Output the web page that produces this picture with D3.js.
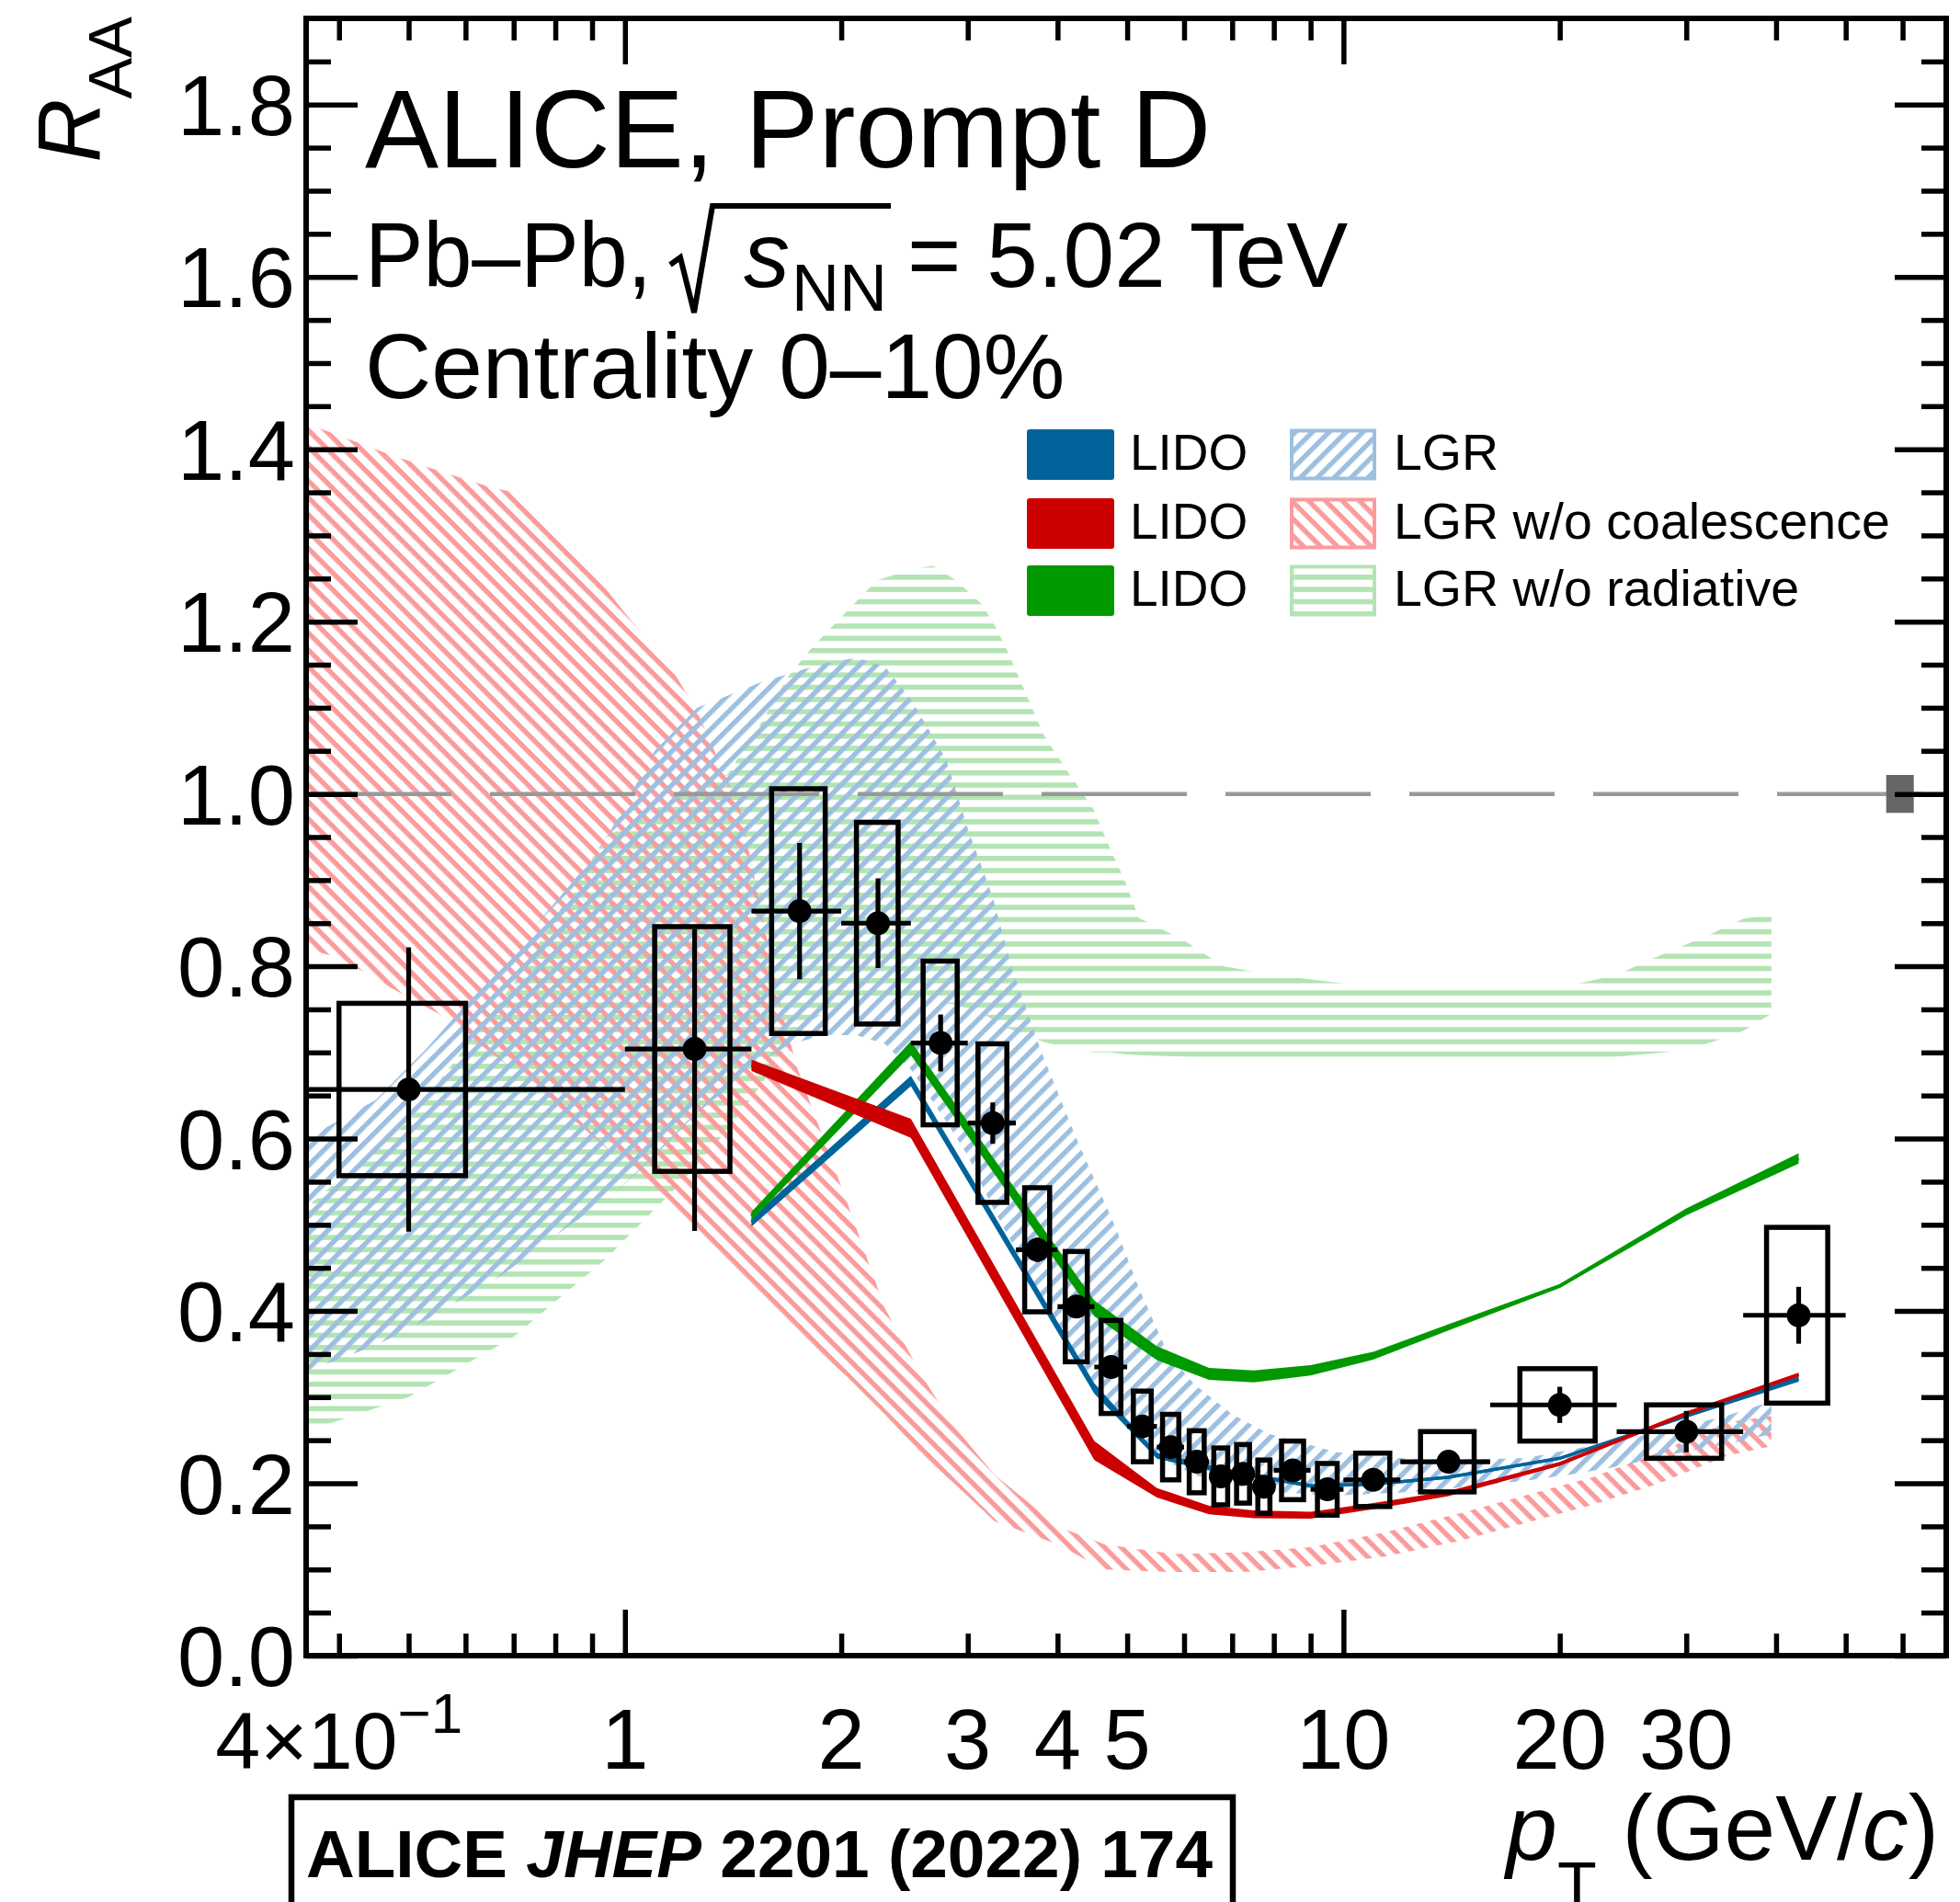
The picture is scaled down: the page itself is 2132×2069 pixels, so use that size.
<!DOCTYPE html>
<html>
<head>
<meta charset="utf-8">
<script src="https://cdn.jsdelivr.net/npm/d3@7"></script>
<style>
  html, body { margin: 0; padding: 0; background: #fff; }
  svg { display: block; }
  text { font-family: "Liberation Sans", Arial, Helvetica, sans-serif; fill: #000; }
</style>
</head>
<body>
<svg id="chart" width="2132" height="2069"></svg>
<script>
// ---------------- measured prompt-D R_AA, Pb-Pb 0-10% ----------------
const ptLow    = [0, 1, 1.5, 2, 2.5, 3, 3.5, 4, 4.5, 5, 5.5, 6, 6.5, 7, 7.5, 8, 9, 10, 12, 16, 24, 36];
const ptHigh   = [1, 1.5, 2, 2.5, 3, 3.5, 4, 4.5, 5, 5.5, 6, 6.5, 7, 7.5, 8, 9, 10, 12, 16, 24, 36, 50];
const ptCenter = [0.5, 1.25, 1.75, 2.25, 2.75, 3.25, 3.75, 4.25, 4.75, 5.25, 5.75, 6.25, 6.75, 7.25, 7.75, 8.5, 9.5, 11, 14, 20, 30, 43];
const raa      = [0.657, 0.704, 0.864, 0.850, 0.711, 0.618, 0.471, 0.405, 0.335, 0.266, 0.242, 0.225, 0.208, 0.211, 0.196, 0.215, 0.193, 0.204, 0.225, 0.291, 0.260, 0.395];
const statUp   = [0.165, 0.139, 0.079, 0.052, 0.033, 0.024, 0.014, 0.012, 0.01, 0.009, 0.009, 0.009, 0.009, 0.009, 0.009, 0.009, 0.01, 0.01, 0.012, 0.021, 0.024, 0.033];
const statDown = [0.165, 0.211, 0.079, 0.052, 0.033, 0.024, 0.014, 0.012, 0.01, 0.009, 0.009, 0.009, 0.009, 0.009, 0.009, 0.009, 0.01, 0.01, 0.012, 0.021, 0.024, 0.033];
const raaSyst  = [0.10, 0.142, 0.142, 0.117, 0.095, 0.092, 0.072, 0.064, 0.054, 0.041, 0.038, 0.036, 0.033, 0.034, 0.031, 0.034, 0.030, 0.031, 0.035, 0.042, 0.031, 0.102];
const normUnc  = 0.022;   // global normalisation uncertainty at R_AA = 1

// ---------------- LIDO predictions (central value and half width) ----------------
const lidoPt        = [1.5, 2.5, 4.5, 5.5, 6.5, 7.5, 9, 11, 14, 20, 30, 43];
const lidoBlue      = [0.503, 0.667, 0.310, 0.232, 0.218, 0.209, 0.197, 0.199, 0.207, 0.229, 0.278, 0.321];
const lidoBlueErr   = [0.005, 0.006, 0.006, 0.0035, 0.003, 0.0025, 0.002, 0.002, 0.0017, 0.0017, 0.002, 0.003];
const lidoRed       = [0.685, 0.612, 0.238, 0.189, 0.169, 0.164, 0.163, 0.1735, 0.188, 0.2225, 0.281, 0.326];
const lidoRedErr    = [0.0065, 0.011, 0.011, 0.0055, 0.005, 0.0045, 0.004, 0.0035, 0.003, 0.0022, 0.0022, 0.0022];
const lidoGreen     = [0.510, 0.705, 0.403, 0.351, 0.327, 0.324, 0.331, 0.348, 0.381, 0.429, 0.515, 0.577];
const lidoGreenErr  = [0.005, 0.008, 0.009, 0.008, 0.007, 0.007, 0.006, 0.0045, 0.0035, 0.0022, 0.004, 0.006];

// ---------------- LGR predictions (lower / upper edges) ----------------
const lgrPt = [0.36, 0.45, 0.53, 0.67, 0.84, 0.95, 1.1, 1.26, 1.4, 1.55, 1.7, 1.9, 2.1, 2.3, 2.5, 2.8, 3.0, 3.25, 3.45, 3.8, 4.25, 4.8, 5.2, 5.7, 6.2, 7.0, 7.9, 9.8, 12.5, 15.4, 17.9, 21, 24.3, 28.2, 34, 39.4];
const lgrHi = [0.60, 0.645, 0.705, 0.80, 0.895, 0.954, 1.05, 1.10, 1.115, 1.13, 1.14, 1.152, 1.158, 1.148, 1.11, 1.04, 0.96, 0.88, 0.80, 0.70, 0.60, 0.50, 0.425, 0.35, 0.315, 0.28, 0.257, 0.236, 0.228, 0.228, 0.229, 0.24, 0.25, 0.262, 0.278, 0.295];
const lgrLo = [0.33, 0.36, 0.39, 0.44, 0.50, 0.53, 0.58, 0.63, 0.66, 0.69, 0.71, 0.72, 0.72, 0.71, 0.68, 0.62, 0.58, 0.52, 0.48, 0.41, 0.34, 0.28, 0.25, 0.225, 0.21, 0.198, 0.19, 0.186, 0.19, 0.197, 0.203, 0.211, 0.22, 0.2325, 0.245, 0.257];

const noCoalPt = [0.36, 0.40, 0.47, 0.55, 0.65, 0.70, 0.80, 0.91, 1.0, 1.16, 1.26, 1.45, 1.65, 1.74, 2.03, 2.30, 2.62, 2.87, 3.27, 4.0, 4.65, 5.8, 7.3, 9.0, 11.4, 14.5, 17.9, 22.2, 27.5, 34.2, 39.4];
const noCoalHi = [1.43, 1.416, 1.394, 1.375, 1.356, 1.35, 1.30, 1.253, 1.21, 1.146, 1.096, 0.98, 0.75, 0.68, 0.53, 0.403, 0.318, 0.266, 0.21, 0.15, 0.129, 0.118, 0.12, 0.126, 0.143, 0.165, 0.186, 0.207, 0.236, 0.271, 0.278];
const noCoalLo = [0.82, 0.81, 0.776, 0.745, 0.70, 0.68, 0.64, 0.60, 0.57, 0.52, 0.49, 0.44, 0.394, 0.375, 0.325, 0.28, 0.23, 0.20, 0.156, 0.129, 0.10, 0.097, 0.097, 0.104, 0.115, 0.133, 0.154, 0.175, 0.20, 0.232, 0.243];

const noRadPt = [0.36, 0.5, 0.7, 0.94, 1.2, 1.39, 1.54, 1.69, 1.8, 1.93, 2.08, 2.24, 2.52, 2.68, 2.89, 3.14, 3.29, 3.41, 3.83, 4.14, 4.49, 4.72, 4.98, 5.19, 6.0, 6.8, 8, 10, 13, 16, 20, 24, 28, 32, 36, 39.4];
const noRadHi = [0.52, 0.62, 0.78, 0.95, 1.0, 1.023, 1.08, 1.137, 1.165, 1.192, 1.22, 1.248, 1.261, 1.265, 1.248, 1.22, 1.192, 1.165, 1.068, 1.025, 0.982, 0.939, 0.896, 0.856, 0.83, 0.80, 0.79, 0.78, 0.775, 0.775, 0.775, 0.79, 0.815, 0.835, 0.855, 0.86];
const noRadLo = [0.26, 0.30, 0.37, 0.46, 0.55, 0.61, 0.66, 0.71, 0.735, 0.75, 0.76, 0.765, 0.765, 0.76, 0.755, 0.746, 0.735, 0.728, 0.712, 0.705, 0.70, 0.70, 0.698, 0.697, 0.695, 0.693, 0.69, 0.69, 0.69, 0.69, 0.69, 0.695, 0.70, 0.71, 0.725, 0.745];

// ---------------- axis ticks ----------------
const xMajorTicks = [1, 10];
const xMinorTicks = [0.4, 0.5, 0.6, 0.7, 0.8, 0.9, 2, 3, 4, 5, 6, 7, 8, 9, 20, 30, 40, 50, 60];
const xTickLabels = [[1, "1"], [2, "2"], [3, "3"], [4, "4"], [5, "5"], [10, "10"], [20, "20"], [30, "30"]];
const yMajorTicks = [0, 0.2, 0.4, 0.6, 0.8, 1.0, 1.2, 1.4, 1.6, 1.8];
const yMinorTicks = d3.range(1, 38).map(i => i * 0.05).filter(v => Math.abs(v / 0.2 - Math.round(v / 0.2)) > 1e-6);

// ---------------- legend ----------------
const legendModels = [
  ["LIDO", "#00649b"], ["LIDO", "#cc0000"], ["LIDO", "#009900"]
];
const legendHatched = [
  ["LGR", "hatchLGR", "#9dbfe0"], ["LGR w/o coalescence", "hatchNoCoal", "#fb9b9b"], ["LGR w/o radiative", "hatchNoRad", "#b3e4b3"]
];

// ---------------- drawing ----------------
const svg = d3.select("#chart");
const defs = svg.append("defs");
const plotL = 333, plotR = 2117, plotT = 20, plotB = 1801;

const x = d3.scaleLog().domain([0.36, 69]).range([plotL, plotR]);
const y = d3.scaleLinear().domain([0, 1.9]).range([plotB, plotT]);

defs.append("clipPath").attr("id", "plotClip")
  .append("rect").attr("x", plotL).attr("y", plotT).attr("width", plotR - plotL).attr("height", plotB - plotT);

function hatch(id, color, angle, period, width) {
  const p = defs.append("pattern").attr("id", id)
    .attr("patternUnits", "userSpaceOnUse")
    .attr("width", period).attr("height", period)
    .attr("patternTransform", `rotate(${angle})`);
  p.append("rect").attr("x", -1).attr("y", 0).attr("width", period + 2).attr("height", width).attr("fill", color);
}
hatch("hatchLGR", "#9dbfe0", -45, 13, 5.4);
hatch("hatchNoCoal", "#fb9b9b", 45, 13, 5.4);
hatch("hatchNoRad", "#b3e4b3", 0, 13.3, 5.6);

const plot = svg.append("g").attr("clip-path", "url(#plotClip)");

const rows = (pt, lo, hi) => pt.map((p, i) => ({ pt: p, lo: lo[i], hi: hi[i] }));
const band = d3.area().x(d => x(d.pt)).y0(d => y(d.lo)).y1(d => y(d.hi));

// LGR hatched bands
plot.append("path").datum(rows(noRadPt, noRadLo, noRadHi)).attr("d", band).attr("fill", "url(#hatchNoRad)");
plot.append("path").datum(rows(noCoalPt, noCoalLo, noCoalHi)).attr("d", band).attr("fill", "url(#hatchNoCoal)");
plot.append("path").datum(rows(lgrPt, lgrLo, lgrHi)).attr("d", band).attr("fill", "url(#hatchLGR)");

// unity reference line
plot.append("line")
  .attr("x1", plotL).attr("x2", plotR).attr("y1", y(1)).attr("y2", y(1))
  .attr("stroke", "#999").attr("stroke-width", 4.5).attr("stroke-dasharray", "158 42");

// LIDO bands
const midLine = d3.line().x(d => x(d.pt)).y(d => y((d.lo + d.hi) / 2));
[[lidoBlue, lidoBlueErr, "#00649b"], [lidoGreen, lidoGreenErr, "#009900"], [lidoRed, lidoRedErr, "#cc0000"]]
  .forEach(([c, e, col]) => {
    const r = lidoPt.map((p, i) => ({ pt: p, lo: c[i] - e[i], hi: c[i] + e[i] }));
    plot.append("path").datum(r).attr("d", band).attr("fill", col);
    plot.append("path").datum(r).attr("d", midLine).attr("fill", "none")
      .attr("stroke", col).attr("stroke-width", 3.5).attr("stroke-linejoin", "round");
  });

// normalisation box at unity
plot.append("rect")
  .attr("x", x(59.5) - 15).attr("width", 30)
  .attr("y", y(1 + normUnc)).attr("height", y(1 - normUnc) - y(1 + normUnc))
  .attr("fill", "#666");

// data points
const data = ptCenter.map((c, i) => ({
  c, lo: ptLow[i], hi: ptHigh[i], v: raa[i], up: statUp[i], down: statDown[i], syst: raaSyst[i],
  bw: Math.min(0.3 * (ptHigh[i] - ptLow[i]), 0.2 * c)
}));
const pts = plot.append("g");
pts.selectAll("rect.sys").data(data).join("rect").attr("class", "sys")
  .attr("x", d => x(d.c - d.bw)).attr("width", d => x(d.c + d.bw) - x(d.c - d.bw))
  .attr("y", d => y(d.v + d.syst)).attr("height", d => y(d.v - d.syst) - y(d.v + d.syst))
  .attr("fill", "none").attr("stroke", "#000").attr("stroke-width", 5.5);
pts.selectAll("line.xerr").data(data).join("line").attr("class", "xerr")
  .attr("x1", d => x(Math.max(d.lo, 0.3))).attr("x2", d => x(d.hi))
  .attr("y1", d => y(d.v)).attr("y2", d => y(d.v))
  .attr("stroke", "#000").attr("stroke-width", 5.2);
pts.selectAll("line.yerr").data(data).join("line").attr("class", "yerr")
  .attr("x1", d => x(d.c)).attr("x2", d => x(d.c))
  .attr("y1", d => y(d.v - d.down)).attr("y2", d => y(d.v + d.up))
  .attr("stroke", "#000").attr("stroke-width", 5.2);
pts.selectAll("circle").data(data).join("circle")
  .attr("cx", d => x(d.c)).attr("cy", d => y(d.v)).attr("r", 13).attr("fill", "#000");

// ---------------- axes (ticks on all four sides, pointing inwards) ----------------
function tickAxis(axisFn, scale, values, len, transform) {
  const g = svg.append("g").attr("transform", transform)
    .call(axisFn(scale).tickValues(values).tickSize(-len).tickFormat(""));
  g.select(".domain").remove();
  g.selectAll(".tick line").attr("stroke", "#000").attr("stroke-width", 5.5);
}
tickAxis(d3.axisBottom, x, xMajorTicks, 50, `translate(0,${plotB})`);
tickAxis(d3.axisBottom, x, xMinorTicks, 24, `translate(0,${plotB})`);
tickAxis(d3.axisTop, x, xMajorTicks, 50, `translate(0,${plotT})`);
tickAxis(d3.axisTop, x, xMinorTicks, 24, `translate(0,${plotT})`);
tickAxis(d3.axisLeft, y, yMajorTicks, 56, `translate(${plotL},0)`);
tickAxis(d3.axisLeft, y, yMinorTicks, 27, `translate(${plotL},0)`);
tickAxis(d3.axisRight, y, yMajorTicks, 56, `translate(${plotR},0)`);
tickAxis(d3.axisRight, y, yMinorTicks, 27, `translate(${plotR},0)`);

svg.append("rect").attr("x", plotL).attr("y", plotT).attr("width", plotR - plotL).attr("height", plotB - plotT)
  .attr("fill", "none").attr("stroke", "#000").attr("stroke-width", 6);

// tick labels
svg.append("g").selectAll("text").data(yMajorTicks).join("text")
  .attr("x", plotL - 12).attr("y", d => y(d) + 33)
  .attr("text-anchor", "end").attr("font-size", 92)
  .text(d => d.toFixed(1));
svg.append("g").selectAll("text").data(xTickLabels).join("text")
  .attr("x", d => x(d[0])).attr("y", 1924)
  .attr("text-anchor", "middle").attr("font-size", 92)
  .text(d => d[1]);
const lab04 = svg.append("text").attr("x", x(0.4)).attr("y", 1924).attr("text-anchor", "middle").attr("font-size", 88);
lab04.append("tspan").text("4×10");
lab04.append("tspan").attr("font-size", 62).attr("dy", -39).text("−1");

// axis titles
const xTitle = svg.append("text").attr("x", 2109).attr("y", 2023).attr("text-anchor", "end").attr("font-size", 100);
xTitle.append("tspan").attr("font-style", "italic").text("p");
xTitle.append("tspan").attr("font-size", 70).attr("dy", 52).text("T");
xTitle.append("tspan").attr("dy", -52).text(" (GeV/");
xTitle.append("tspan").attr("font-style", "italic").text("c");
xTitle.append("tspan").text(")");

const yTitle = svg.append("text").attr("transform", "translate(109,18) rotate(-90)")
  .attr("text-anchor", "end").attr("font-size", 96);
yTitle.append("tspan").attr("font-style", "italic").text("R");
yTitle.append("tspan").attr("font-size", 67).attr("dy", 34).text("AA");

// ---------------- header texts ----------------
svg.append("text").attr("x", 397).attr("y", 182).attr("font-size", 120).text("ALICE, Prompt D");

const hdr = svg.append("g");
const base2 = 312;
const tPb = hdr.append("text").attr("x", 397).attr("y", base2).attr("font-size", 100)
  .attr("textLength", 312).attr("lengthAdjust", "spacingAndGlyphs").text("Pb–Pb,");
const rx0 = 397 + 312 + 20;
const tS = hdr.append("text").attr("x", rx0 + 80).attr("y", base2).attr("font-size", 100)
  .attr("font-style", "italic").text("s");
const sEnd = rx0 + 80 + tS.node().getComputedTextLength();
const tNN = hdr.append("text").attr("x", sEnd + 2).attr("y", base2 + 26).attr("font-size", 72).text("NN");
const nnEnd = sEnd + 2 + tNN.node().getComputedTextLength();
hdr.append("path")
  .attr("d", `M${rx0},${base2 - 24} L${rx0 + 11},${base2 - 32} L${rx0 + 26},${base2 + 28} L${rx0 + 46},${base2 - 88} L${nnEnd + 4},${base2 - 88}`)
  .attr("fill", "none").attr("stroke", "#000").attr("stroke-width", 6).attr("stroke-linejoin", "miter");
hdr.append("text").attr("x", nnEnd + 22).attr("y", base2).attr("font-size", 100).text("= 5.02 TeV");

svg.append("text").attr("x", 397).attr("y", 433).attr("font-size", 100).text("Centrality 0–10%");

// ---------------- legend ----------------
const legRowY = [467, 542, 615];
const legG = svg.append("g");
legendModels.forEach(([label, col], i) => {
  legG.append("rect").attr("x", 1117).attr("y", legRowY[i]).attr("width", 95).attr("height", 55)
    .attr("rx", 3).attr("fill", col);
  legG.append("text").attr("x", 1229).attr("y", legRowY[i] + 44).attr("font-size", 55).text(label);
});
legendHatched.forEach(([label, pat, col], i) => {
  legG.append("rect").attr("x", 1405).attr("y", legRowY[i] + 1.5).attr("width", 90).attr("height", 52)
    .attr("fill", `url(#${pat})`).attr("stroke", col).attr("stroke-width", 4);
  legG.append("text").attr("x", 1516).attr("y", legRowY[i] + 44).attr("font-size", 55.5).text(label);
});

// ---------------- publication reference ----------------
svg.append("rect").attr("x", 317).attr("y", 1955).attr("width", 1024).attr("height", 160)
  .attr("fill", "none").attr("stroke", "#000").attr("stroke-width", 6.5);
const ref = svg.append("text").attr("x", 333).attr("y", 2042).attr("font-size", 73).attr("font-weight", "bold");
ref.append("tspan").text("ALICE ");
ref.append("tspan").attr("font-style", "italic").text("JHEP");
ref.append("tspan").text(" 2201 (2022) 174");
</script>
</body>
</html>
